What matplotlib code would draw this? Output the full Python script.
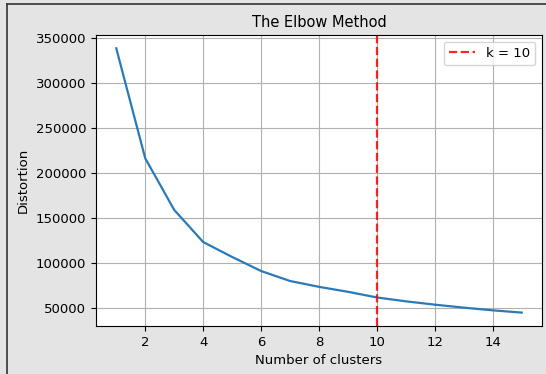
import matplotlib
matplotlib.use("Agg")
import matplotlib.pyplot as plt
from matplotlib.lines import Line2D

# Distortion (inertia) per number of clusters
k_values = list(range(1, 16))
distortions = [338500, 216300, 159000, 123300, 106700, 91100, 80000,
               73500, 68000, 61700, 57400, 53700, 50400, 47400, 44900]
chosen_k = 10

plt.rcParams["font.size"] = 9.5

fig = plt.figure(figsize=(5.46, 3.74), dpi=100, facecolor="#e4e4e4")
ax = fig.add_axes([96 / 546, 1 - 326 / 374, 446 / 546, 291 / 374])

ax.plot(k_values, distortions, color="#2a7ab9", linewidth=1.6)
ax.axvline(x=chosen_k, color="red", linestyle="--", linewidth=1.6,
           alpha=0.85, label=f"k = {chosen_k}")

ax.set_title("The Elbow Method", fontsize=10.5)
ax.set_xlabel("Number of clusters")
ax.set_ylabel("Distortion")
ax.set_xticks([2, 4, 6, 8, 10, 12, 14])
ax.set_yticks([50000, 100000, 150000, 200000, 250000, 300000, 350000])
ax.set_ylim(30000, 353300)
ax.grid(True, color="#b0b0b0", linewidth=0.8)
ax.legend(loc="upper right")

# frame line around the figure area
fig.add_artist(Line2D([7 / 546, 7 / 546], [0, 1 - 4 / 374],
                      transform=fig.transFigure, color="#333333", linewidth=1.2))
fig.add_artist(Line2D([7 / 546, 1], [1 - 4 / 374, 1 - 4 / 374],
                      transform=fig.transFigure, color="#333333", linewidth=1.2))

fig.savefig("out.png", dpi=100, facecolor=fig.get_facecolor())
